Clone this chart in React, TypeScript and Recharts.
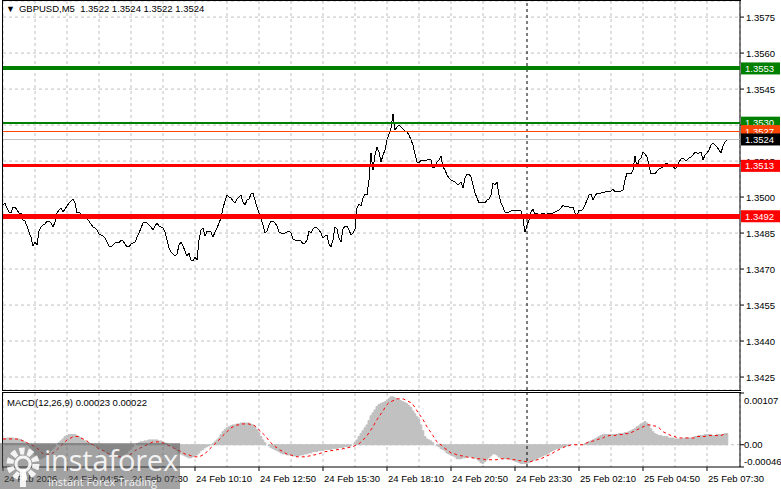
import { Bar, CartesianGrid, ComposedChart, Line, ReferenceLine, XAxis, YAxis } from 'recharts'

// GBPUSD M5 closes, one per bar, starting 24 Feb 02:10
const closes = [
    1.34967, 1.34975, 1.34954, 1.34937, 1.34933, 1.34958, 1.34958, 1.34946, 1.34933, 1.34933,
    1.34904, 1.349, 1.34879, 1.34854, 1.34833, 1.34796, 1.34812, 1.348, 1.34858, 1.34875,
    1.34883, 1.34887, 1.349, 1.349, 1.34892, 1.34875, 1.34896, 1.34933, 1.34946, 1.34954,
    1.34937, 1.3495, 1.34962, 1.34975, 1.34983, 1.34992, 1.34975, 1.34933, 1.34937, 1.34929,
    1.34917, 1.34912, 1.34908, 1.349, 1.34887, 1.34875, 1.34871, 1.34862, 1.34846, 1.34842,
    1.34837, 1.34829, 1.34812, 1.34796, 1.34792, 1.348, 1.34808, 1.34812, 1.34808, 1.34821,
    1.34817, 1.34804, 1.34792, 1.34792, 1.34804, 1.34808, 1.34812, 1.34833, 1.3485, 1.34871,
    1.34892, 1.34896, 1.34892, 1.34883, 1.34875, 1.34862, 1.34879, 1.34892, 1.34879, 1.34875,
    1.34871, 1.34854, 1.34821, 1.34787, 1.34771, 1.34762, 1.34754, 1.34762, 1.348, 1.34812,
    1.34796, 1.34775, 1.34754, 1.34767, 1.34737, 1.34733, 1.3475, 1.34737, 1.34821, 1.34862,
    1.34871, 1.34837, 1.34858, 1.34858, 1.34854, 1.34833, 1.34854, 1.34871, 1.34892, 1.34912,
    1.34954, 1.34983, 1.35008, 1.35, 1.34996, 1.34983, 1.34975, 1.34992, 1.35, 1.35008,
    1.34979, 1.34967, 1.34987, 1.34992, 1.35013, 1.35017, 1.34987, 1.34958, 1.34933, 1.34912,
    1.34883, 1.3485, 1.34858, 1.34883, 1.349, 1.349, 1.34892, 1.34879, 1.34854, 1.3485,
    1.34846, 1.3485, 1.34854, 1.34858, 1.3485, 1.34825, 1.34821, 1.34821, 1.34821, 1.34817,
    1.34804, 1.34808, 1.34821, 1.34858, 1.3485, 1.34867, 1.34875, 1.34871, 1.34862, 1.3485,
    1.34829, 1.34837, 1.34842, 1.34804, 1.34792, 1.34821, 1.34875, 1.34867, 1.34829, 1.34812,
    1.34867, 1.34879, 1.34879, 1.34862, 1.34842, 1.3485, 1.34867, 1.34954, 1.34971, 1.34962,
    1.34996, 1.35013, 1.35008, 1.35071, 1.35183, 1.35113, 1.35175, 1.35208, 1.35188, 1.35146,
    1.35175, 1.35196, 1.35238, 1.35263, 1.35288, 1.35346, 1.35279, 1.35292, 1.353, 1.35292,
    1.35283, 1.35275, 1.35271, 1.35258, 1.35238, 1.35217, 1.35179, 1.35146, 1.35142, 1.35154,
    1.3515, 1.35154, 1.35154, 1.35158, 1.35154, 1.35121, 1.35125, 1.35146, 1.35154, 1.35171,
    1.35125, 1.35113, 1.35092, 1.35079, 1.35071, 1.35067, 1.35063, 1.35054, 1.35054, 1.35063,
    1.35038, 1.35079, 1.35096, 1.35096, 1.35083, 1.3505, 1.35017, 1.34996, 1.34975, 1.34979,
    1.34979, 1.34975, 1.34987, 1.34992, 1.35008, 1.35058, 1.3505, 1.35063, 1.35008, 1.34975,
    1.34958, 1.34937, 1.34933, 1.34937, 1.34942, 1.34946, 1.34942, 1.34942, 1.34946, 1.34942,
    1.34908, 1.34854, 1.34883, 1.34904, 1.34937, 1.3495, 1.34929, 1.34933, 1.34925, 1.34929,
    1.34933, 1.34929, 1.34929, 1.34933, 1.34929, 1.34933, 1.34937, 1.34942, 1.34946, 1.34954,
    1.34967, 1.34958, 1.34962, 1.34958, 1.34954, 1.34958, 1.34933, 1.34921, 1.34946, 1.34942,
    1.3495, 1.34967, 1.34987, 1.35008, 1.35013, 1.34987, 1.35004, 1.35017, 1.35013, 1.35017,
    1.35017, 1.35021, 1.35025, 1.35021, 1.35025, 1.35033, 1.35021, 1.35025, 1.35021, 1.35025,
    1.35029, 1.35071, 1.351, 1.351, 1.35096, 1.35113, 1.35171, 1.35125, 1.35154, 1.35163,
    1.35188, 1.35179, 1.35167, 1.35133, 1.35096, 1.351, 1.35096, 1.35108, 1.35117, 1.35121,
    1.35125, 1.35138, 1.35142, 1.35129, 1.35129, 1.35129, 1.35117, 1.35125, 1.35146, 1.35158,
    1.35163, 1.35154, 1.35154, 1.35163, 1.35167, 1.35175, 1.35188, 1.35183, 1.35183, 1.35188,
    1.35154, 1.35175, 1.35183, 1.35196, 1.35217, 1.35225, 1.35217, 1.35208, 1.35196, 1.35183,
    1.35213, 1.35229, 1.35238,
]

// MACD(12,26,9) main line (grey histogram), same bars
const macdMain = [
    0.00012, 0.00012, 0.00014, 0.00014, 0.00014, 0.00014, 0.00012, 0.00012, 0.00012,
    0.0001, 0.00008, 0.00006, 0.00002, -0.00002, -0.00006,
    -0.00012, -0.00019, -0.00025, -0.00029, -0.00029,
    -0.00027, -0.00025, -0.00021, -0.00017, -0.00012, -0.00008, -0.00004, 0,
    0.00004, 0.00008, 0.00012, 0.00017, 0.00019, 0.00021, 0.00021,
    0.00021, 0.00021, 0.00019, 0.00017, 0.00014, 0.0001, 0.00008,
    0.00006, 0.00004, 0.00002, 0, -0.00002, -0.00004, -0.00006,
    -0.00008, -0.00012, -0.00014, -0.00017, -0.00019, -0.00021, -0.00023, -0.00025, -0.00025, -0.00025,
    -0.00023, -0.00021, -0.00019, -0.00017, -0.00012, -0.00008, -0.00004, 0, 0.00002, 0.00004,
    0.00006, 0.00006, 0.00008, 0.00008, 0.0001, 0.0001, 0.0001, 0.0001, 0.0001, 0.00008, 0.00008, 0.00006, 0.00004, 0.00002, 0, -0.00002,
    -0.00004, -0.00008, -0.00012, -0.00017, -0.00019, -0.00021, -0.00023, -0.00025, -0.00027, -0.00027, -0.00025, -0.00023, -0.00021, -0.00017,
    -0.00012, -0.0001, -0.00006, -0.00004, -0.00002, 0, 0.00002,
    0.00006, 0.0001, 0.00014, 0.00021, 0.00027, 0.00031, 0.00035, 0.00037, 0.00039,
    0.00041, 0.00041, 0.00043, 0.00043, 0.00045, 0.00045, 0.00045, 0.00045, 0.00045, 0.00043, 0.00041, 0.00037, 0.00031, 0.00025, 0.00017,
    0.0001, 0.00004, 0, -0.00002, -0.00006,
    -0.00008, -0.0001, -0.00012, -0.00014, -0.00017, -0.00019, -0.00019, -0.00021, -0.00021, -0.00021,
    -0.00023, -0.00023, -0.00023, -0.00023, -0.00021, -0.00021, -0.00019, -0.00019, -0.00017, -0.00017,
    -0.00014, -0.00014, -0.00014, -0.00012, -0.00012, -0.00012, -0.0001, -0.0001, -0.0001, -0.0001,
    -0.00008, -0.00008, -0.00008, -0.00006, -0.00006, -0.00006, -0.00004, -0.00004, -0.00004, -0.00002,
    0, 0.00004, 0.0001, 0.00017, 0.00023, 0.00029, 0.00035, 0.00041, 0.0005,
    0.0006, 0.00066, 0.00072, 0.00079, 0.00083, 0.00085, 0.00087, 0.00089, 0.00091, 0.00095,
    0.00099, 0.00099, 0.00097, 0.00095, 0.00093, 0.00091, 0.00089,
    0.00087, 0.00085, 0.00081, 0.00077, 0.0007, 0.00064, 0.00058, 0.00052, 0.00041, 0.00029, 0.00017, 0.00012, 0.0001, 0.00008, 0.00004,
    0, -0.00002, -0.00004, -0.00008, -0.0001, -0.00012, -0.00017, -0.00019,
    -0.00021, -0.00023, -0.00025, -0.00029, -0.00029, -0.00029, -0.00027, -0.00027, -0.00025, -0.00025,
    -0.00025, -0.00027, -0.00027, -0.00029, -0.00033, -0.00037, -0.00039, -0.00035, -0.00031, -0.00027, -0.00023, -0.00019,
    -0.00019, -0.00021, -0.00025, -0.00027, -0.00029, -0.00029, -0.00029, -0.00029, -0.00031, -0.00031,
    -0.00033, -0.00035, -0.00037, -0.00039, -0.00039, -0.00039, -0.00039,
    -0.00037, -0.00035, -0.00033, -0.00031, -0.00029, -0.00027, -0.00025, -0.00023, -0.00021, -0.00019, -0.00017,
    -0.00014, -0.00012, -0.0001, -0.00008, -0.00008, -0.00006, -0.00004, -0.00004, -0.00002, -0.00002, 0,
    0, 0, 0, 0, 0, 0, 0.00002, 0.00004, 0.00006,
    0.00008, 0.0001, 0.00012, 0.00014, 0.00017, 0.00019, 0.00021, 0.00021, 0.00021, 0.00021, 0.00021,
    0.00021, 0.00021, 0.00021, 0.00023, 0.00023, 0.00023, 0.00025, 0.00025, 0.00027,
    0.00029, 0.00031, 0.00033, 0.00037, 0.00039, 0.00043, 0.00045, 0.00048,
    0.00045, 0.00041, 0.00033, 0.00027, 0.00023, 0.00021, 0.00019, 0.00019,
    0.00017, 0.00017, 0.00017, 0.00014, 0.00014, 0.00014, 0.00012, 0.00012, 0.00012, 0.00012, 0.00012, 0.00014, 0.00014, 0.00014,
    0.00014, 0.00014, 0.00017, 0.00017, 0.00019, 0.00019, 0.00019, 0.00021, 0.00021, 0.00021,
    0.00021, 0.00019, 0.00019, 0.00021, 0.00021, 0.00021, 0.00021, 0.00023, 0.00023,
]

// MACD signal line (red dotted)
const macdSignal = [
    0.00012, 0.00012, 0.00012, 0.00012, 0.00012, 0.00012, 0.00012, 0.00012, 0.0001,
    0.0001, 0.00008, 0.00006, 0.00004, 0.00002, 0,
    -0.00002, -0.00004, -0.00008, -0.0001, -0.00014,
    -0.00019, -0.00021, -0.00021, -0.00021, -0.00019, -0.00017, -0.00014, -0.0001,
    -0.00006, -0.00002, 0.00002, 0.00006, 0.0001, 0.00012, 0.00014,
    0.00017, 0.00017, 0.00017, 0.00017, 0.00014, 0.00012, 0.0001,
    0.00008, 0.00004, 0.00002, 0, -0.00002, -0.00006, -0.00008,
    -0.0001, -0.00012, -0.00014, -0.00017, -0.00019, -0.00021, -0.00023, -0.00023, -0.00025, -0.00025,
    -0.00025, -0.00025, -0.00023, -0.00023, -0.00021, -0.00019, -0.00017, -0.00012, -0.0001, -0.00008,
    -0.00006, -0.00004, -0.00002, 0, 0.00002, 0.00004, 0.00006, 0.00006, 0.00006, 0.00006, 0.00004, 0.00004, 0.00002, 0, -0.00002, -0.00004,
    -0.00006, -0.00008, -0.0001, -0.00012, -0.00014, -0.00017, -0.00019, -0.00021, -0.00021, -0.00023, -0.00023, -0.00025, -0.00025, -0.00025,
    -0.00023, -0.00021, -0.00019, -0.00014, -0.0001, -0.00006, -0.00002,
    0.00002, 0.00006, 0.0001, 0.00014, 0.00019, 0.00023, 0.00027, 0.00031, 0.00035,
    0.00037, 0.00039, 0.00041, 0.00041, 0.00043, 0.00043, 0.00043, 0.00043, 0.00043, 0.00041, 0.00041, 0.00039, 0.00035, 0.00031, 0.00027,
    0.00023, 0.00019, 0.00014, 0.00008, 0.00004,
    0, -0.00004, -0.00006, -0.0001, -0.00012, -0.00014, -0.00017, -0.00019, -0.00021, -0.00021,
    -0.00023, -0.00023, -0.00025, -0.00025, -0.00025, -0.00025, -0.00025, -0.00025, -0.00023, -0.00023,
    -0.00021, -0.00021, -0.00019, -0.00019, -0.00017, -0.00017, -0.00014, -0.00014, -0.00014, -0.00012,
    -0.00012, -0.00012, -0.0001, -0.0001, -0.0001, -0.00008, -0.00008, -0.00006, -0.00006, -0.00004,
    -0.00004, -0.00002, 0, 0.00002, 0.00006, 0.0001, 0.00014, 0.00019, 0.00025,
    0.00031, 0.00037, 0.00045, 0.00052, 0.00058, 0.00064, 0.0007, 0.00077, 0.00083, 0.00087,
    0.00089, 0.00091, 0.00093, 0.00095, 0.00095, 0.00095, 0.00095,
    0.00093, 0.00091, 0.00089, 0.00087, 0.00083, 0.00077, 0.0007, 0.00064, 0.00058, 0.00052, 0.00045, 0.00037, 0.00031, 0.00025, 0.00019,
    0.00012, 0.00006, 0.00002, 0, -0.00004, -0.00008, -0.0001, -0.00014,
    -0.00017, -0.00019, -0.00019, -0.00021, -0.00021, -0.00023, -0.00023, -0.00025, -0.00025, -0.00027,
    -0.00027, -0.00027, -0.00029, -0.00029, -0.00029, -0.00029, -0.00029, -0.00031, -0.00031, -0.00031, -0.00031, -0.00031,
    -0.00031, -0.00031, -0.00029, -0.00029, -0.00029, -0.00029, -0.00029, -0.00029, -0.00031, -0.00031,
    -0.00031, -0.00031, -0.00033, -0.00033, -0.00033, -0.00035, -0.00035,
    -0.00035, -0.00035, -0.00033, -0.00033, -0.00031, -0.00031, -0.00029, -0.00027, -0.00025, -0.00023, -0.00021,
    -0.00019, -0.00017, -0.00014, -0.00012, -0.0001, -0.00008, -0.00006, -0.00004, -0.00002, -0.00002, 0,
    0, 0, 0, 0, 0, 0, 0.00002, 0.00004, 0.00006,
    0.00006, 0.00008, 0.00008, 0.0001, 0.00012, 0.00012, 0.00014, 0.00017, 0.00017, 0.00019, 0.00019,
    0.00019, 0.00019, 0.00021, 0.00021, 0.00021, 0.00021, 0.00023, 0.00023, 0.00023,
    0.00025, 0.00027, 0.00029, 0.00031, 0.00033, 0.00035, 0.00037, 0.00039,
    0.00041, 0.00041, 0.00041, 0.00039, 0.00039, 0.00037, 0.00035, 0.00031,
    0.00027, 0.00025, 0.00023, 0.00021, 0.00019, 0.00017, 0.00017, 0.00014, 0.00014, 0.00014, 0.00014, 0.00014, 0.00014, 0.00014,
    0.00014, 0.00014, 0.00014, 0.00017, 0.00017, 0.00017, 0.00017, 0.00017, 0.00019, 0.00019,
    0.00019, 0.00019, 0.00019, 0.00019, 0.00019, 0.00019, 0.00021, 0.00021, 0.00022,
]

const priceTicks = [1.3425, 1.344, 1.3455, 1.347, 1.3485, 1.35, 1.3515, 1.353, 1.3545, 1.356, 1.3575]
const macdTicks = [-0.00046, 0, 0.00107]
const timeLabels = [
    '24 Feb 2026', '24 Feb 04:50', '24 Feb 07:30', '24 Feb 10:10', '24 Feb 12:50', '24 Feb 15:30',
    '24 Feb 18:10', '24 Feb 20:50', '24 Feb 23:30', '25 Feb 02:10', '25 Feb 04:50', '25 Feb 07:30',
]
const BARS_PER_LABEL = 32
const BARS_PER_GRID = 16
const DAY_BREAK_BAR = 262 // 25 Feb 00:00

// horizontal levels on the chart and the text of their price tags
const levelPrices = [1.35536, 1.3531, 1.35275, 1.3524, 1.3513, 1.3492]
const levelTags = ['1.3553', '1.3530', '1.3527', '1.3524', '1.3513', '1.3492']

const TITLE = 'GBPUSD,M5  1.3522 1.3524 1.3522 1.3524'
const MACD_TITLE = 'MACD(12,26,9) 0.00023 0.00022'

// styles
const FONT = '"Liberation Sans", Arial, sans-serif'
const FS = 9.5
const LEVEL_STYLES = [
    { stroke: '#008000', width: 4, box: '#008000' },
    { stroke: '#008000', width: 2, box: '#008000' },
    { stroke: '#ff4500', width: 1, box: '#ff4500' },
    { stroke: '#c0c0c0', width: 1, box: '#000000' },
    { stroke: '#ff0000', width: 3, box: '#ff0000' },
    { stroke: '#ff0000', width: 5, box: '#ff0000' },
]
const X_DOMAIN: [number, number] = [0, 368.5]
const PRICE_DOMAIN: [number, number] = [1.34196, 1.35817]
const MACD_DOMAIN: [number, number] = [-0.00046, 0.00107]
const MAIN_MARGIN = { top: 1, right: 0, bottom: 1, left: 3 }

const priceRows = closes.map((close, i) => ({ i, close }))
const macdRows = macdMain.map((macd, i) => ({ i, macd, signal: macdSignal[i] }))
const gridTicks = Array.from({ length: Math.floor(closes.length / BARS_PER_GRID) }, (_, k) => (k + 1) * BARS_PER_GRID)
const labelTicks = timeLabels.map((_, k) => k * BARS_PER_LABEL)

function PriceTick(props: any) {
    const { x, y, payload } = props
    return (
        <text x={x} y={y} dy={3.5} fontSize={FS} fontFamily={FONT} fill="#000">
            {payload.value.toFixed(4)}
        </text>
    )
}

function MacdTick(props: any) {
    const { x, y, payload } = props
    const v = payload.value
    const shift = v === MACD_DOMAIN[1] ? 7 : v === MACD_DOMAIN[0] ? -6 : 0
    return (
        <text x={x} y={y + shift} dy={3.5} fontSize={FS} fontFamily={FONT} fill="#000">
            {v === 0 ? '0.00' : v.toFixed(5)}
        </text>
    )
}

function TimeTick(props: any) {
    const { x, y, payload } = props
    const text = timeLabels[payload.value / BARS_PER_LABEL]
    return (
        <g>
            <line x1={x} x2={x} y1={y} y2={y + 4} stroke="#000" />
            <text x={x + 1} y={y + 15} fontSize={FS} fontFamily={FONT} fill="#000">
                {text}
            </text>
        </g>
    )
}

const tagLabel = (text: string, fill: string) => (props: any) => {
    const vb = props.viewBox
    const x = vb.x + vb.width + 1
    const y = vb.y
    return (
        <g>
            <rect x={x} y={y - 6} width={39} height={12} fill={fill} />
            <text x={x + 4} y={y} dy={3.5} fontSize={FS} fontFamily={FONT} fill="#fff">
                {text}
            </text>
        </g>
    )
}

function Watermark() {
    const c = 'rgba(255,255,255,0.88)'
    return (
        <div
            style={{
                position: 'absolute', left: 0, top: 443, width: 180, height: 46,
                background: 'rgba(85,85,85,0.55)', color: c, pointerEvents: 'none',
                fontFamily: '"Open Sans", sans-serif', overflow: 'hidden',
            }}
        >
            <svg width={44} height={46} style={{ position: 'absolute', left: 2, top: 0 }}>
                <circle cx={21} cy={21} r={13} fill="none" stroke={c} strokeWidth={7} strokeDasharray="5 3.2" />
                <circle cx={21} cy={21} r={7} fill="none" stroke={c} strokeWidth={3} />
                <rect x={18} y={26} width={6} height={18} fill={c} />
            </svg>
            <div style={{ position: 'absolute', left: 44, top: 0, fontSize: 29, lineHeight: '34px', letterSpacing: -0.2 }}>instaforex</div>
            <div style={{ position: 'absolute', left: 48, top: 33, fontSize: 11, lineHeight: '12px' }}>Instant Forex Trading</div>
        </div>
    )
}

export default function App() {
    return (
        <div style={{ position: 'fixed', left: 0, top: 0, width: 781, height: 489, background: '#fff', overflow: 'hidden', fontFamily: FONT }}>
            {/* price panel */}
            <div style={{ position: 'absolute', left: 0, top: 0 }}>
                <ComposedChart width={781} height={391} data={priceRows} margin={MAIN_MARGIN}>
                    <CartesianGrid stroke="#c0c0c0" strokeDasharray="3 3" />
                    <XAxis dataKey="i" type="number" domain={X_DOMAIN} ticks={gridTicks} hide allowDataOverflow />
                    <YAxis
                        orientation="right"
                        width={41}
                        domain={PRICE_DOMAIN}
                        ticks={priceTicks}
                        interval={0}
                        allowDataOverflow
                        tick={<PriceTick />}
                        tickSize={4}
                        tickMargin={2}
                        tickLine={{ stroke: '#000' }}
                        axisLine={{ stroke: '#000' }}
                    />
                    <Line dataKey="close" type="linear" stroke="#000" strokeWidth={1} dot={false} isAnimationActive={false} shapeRendering="crispEdges" />
                    <ReferenceLine x={DAY_BREAK_BAR} stroke="#000" strokeDasharray="3 3" />
                </ComposedChart>
            </div>
            {/* levels and their price tags, drawn over the price axis */}
            <div style={{ position: 'absolute', left: 0, top: 0, pointerEvents: 'none' }}>
                <ComposedChart width={781} height={391} data={priceRows} margin={MAIN_MARGIN}>
                    <XAxis dataKey="i" type="number" domain={X_DOMAIN} hide allowDataOverflow />
                    <YAxis orientation="right" width={41} domain={PRICE_DOMAIN} allowDataOverflow tick={false} tickLine={false} axisLine={false} />
                    {levelPrices.map((p, k) => (
                        <ReferenceLine
                            key={levelTags[k]}
                            y={p}
                            stroke={LEVEL_STYLES[k].stroke}
                            strokeWidth={LEVEL_STYLES[k].width}
                            shapeRendering="crispEdges"
                            label={tagLabel(levelTags[k], LEVEL_STYLES[k].box)}
                        />
                    ))}
                </ComposedChart>
            </div>
            {/* MACD panel */}
            <div style={{ position: 'absolute', left: 0, top: 391 }}>
                <ComposedChart width={781} height={98} data={macdRows} margin={{ top: 2, right: 0, bottom: 0, left: 3 }} barGap={0} barCategoryGap={0}>
                    <CartesianGrid xAxisId="grid" stroke="#c0c0c0" strokeDasharray="3 3" horizontal={false} />
                    <XAxis xAxisId="grid" dataKey="i" type="number" domain={X_DOMAIN} ticks={gridTicks} hide allowDataOverflow />
                    <XAxis
                        dataKey="i"
                        type="number"
                        domain={X_DOMAIN}
                        ticks={labelTicks}
                        interval={0}
                        allowDataOverflow
                        height={22}
                        tickSize={0}
                        tickMargin={0}
                        tickLine={false}
                        tick={<TimeTick />}
                        axisLine={{ stroke: '#000' }}
                    />
                    <YAxis
                        orientation="right"
                        width={41}
                        domain={MACD_DOMAIN}
                        ticks={macdTicks}
                        interval={0}
                        allowDataOverflow
                        tick={<MacdTick />}
                        tickSize={4}
                        tickMargin={0}
                        tickLine={{ stroke: '#000' }}
                        axisLine={{ stroke: '#000' }}
                    />
                    <ReferenceLine y={0} stroke="#c0c0c0" strokeDasharray="3 3" />
                    <Bar dataKey="macd" fill="#c0c0c0" stroke="#c0c0c0" strokeWidth={1} barSize={2} isAnimationActive={false} />
                    <Line dataKey="signal" type="linear" stroke="#ff0000" strokeWidth={1} strokeDasharray="3 3" dot={false} isAnimationActive={false} />
                    <ReferenceLine x={DAY_BREAK_BAR} stroke="#000" strokeDasharray="3 3" />
                </ComposedChart>
            </div>
            {/* panel frames */}
            <div style={{ position: 'absolute', left: 2, top: 0, width: 739, height: 391, boxSizing: 'border-box', borderLeft: '1px solid #000', borderTop: '1px solid #000', borderBottom: '1px solid #000', pointerEvents: 'none' }} />
            <div style={{ position: 'absolute', left: 2, top: 392, width: 739, height: 76, boxSizing: 'border-box', borderLeft: '1px solid #000', borderTop: '1px solid #000', pointerEvents: 'none' }} />
            <div style={{ position: 'absolute', left: 6, top: 3, fontSize: FS, lineHeight: '12px', whiteSpace: 'pre', color: '#000' }}>
                <span style={{ fontSize: 9, marginRight: 4 }}>▼</span>
                {TITLE}
            </div>
            <div style={{ position: 'absolute', left: 7, top: 397, fontSize: FS, lineHeight: '12px', whiteSpace: 'pre', color: '#000' }}>{MACD_TITLE}</div>
            <Watermark />
        </div>
    )
}
